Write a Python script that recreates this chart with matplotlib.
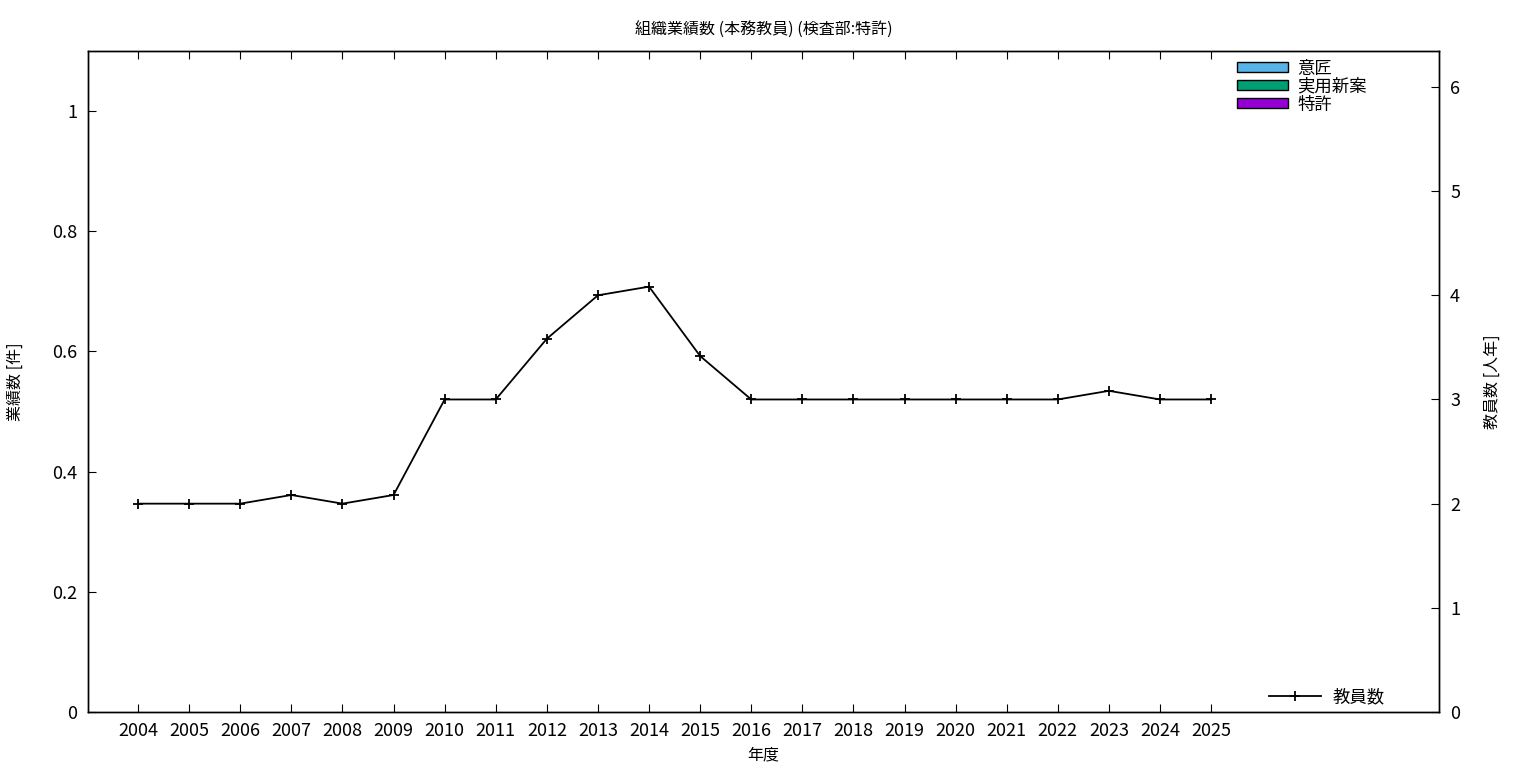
import matplotlib
matplotlib.use('Agg')
import matplotlib.pyplot as plt
from matplotlib.patches import Patch
from matplotlib.lines import Line2D
import numpy as np

plt.rcParams['font.family'] = ['Noto Sans CJK JP', 'DejaVu Sans']

years = [2004, 2005, 2006, 2007, 2008, 2009, 2010, 2011, 2012, 2013, 2014,
         2015, 2016, 2017, 2018, 2019, 2020, 2021, 2022, 2023, 2024, 2025]
# staff count (right axis)
staff = [2, 2, 2, 2.083, 2, 2.083, 3, 3, 3.583, 4, 4.083,
         3.417, 3, 3, 3, 3, 3, 3, 3, 3.083, 3, 3]
# achievements (all zero in this chart)
design = [0] * len(years)
utility = [0] * len(years)
patent = [0] * len(years)

bar_names = ['意匠', '実用新案', '特許']
bar_colors = ['#56b4e9', '#009e73', '#9400d3']

fig = plt.figure(figsize=(15.36, 7.68), dpi=100)
ax = fig.add_axes([88/1536, 1-712/768, (1439-88)/1536, (712-51)/768])
ax2 = ax.twinx()

x = np.arange(len(years))
w = 0.25
for i, (vals, c) in enumerate(zip([design, utility, patent], bar_colors)):
    ax.bar(x + (i-1)*w, vals, w, color=c, linewidth=0)

ax2.plot(x, staff, color='black', linewidth=1.3, marker='+', markersize=7,
         markeredgewidth=1.3)

ax.set_xlim(-0.98, 25.46)
ax.set_ylim(0, 1.1)
ax2.set_ylim(0, 6.345)

ax.set_xticks(x)
ax.set_xticklabels([str(y) for y in years])
ax.set_yticks([0, 0.2, 0.4, 0.6, 0.8, 1])
ax.set_yticklabels(['0', '0.2', '0.4', '0.6', '0.8', '1'])
ax2.set_yticks(range(7))

ax.tick_params(axis='x', direction='in', top=True, length=6, labelsize=13, pad=7)
ax.tick_params(axis='y', direction='in', right=False, length=6, labelsize=13, pad=8)
ax2.tick_params(axis='y', direction='in', length=6, labelsize=13, pad=8)

for a in (ax, ax2):
    for s in a.spines.values():
        s.set_linewidth(1)

ax.set_title('組織業績数 (本務教員) (検査部:特許)', fontsize=11.5, pad=12)
ax.set_xlabel('年度', fontsize=11.5, labelpad=5)
ax.set_ylabel('業績数 [件]', fontsize=11.5, labelpad=20)
ax2.set_ylabel('教員数 [人年]', fontsize=11.5, labelpad=17)

handles = [Patch(facecolor=c, edgecolor='black', label=n) for n, c in zip(bar_names, bar_colors)]
leg1 = ax2.legend(handles=handles, loc='upper right', bbox_to_anchor=(0.957, 1.008),
                  frameon=False, fontsize=12.5, handlelength=2.95, handleheight=0.5,
                  labelspacing=0.0, handletextpad=0.55, borderpad=0.3)
ax2.add_artist(leg1)
ax2.legend(handles=[Line2D([0], [0], color='black', linewidth=1.3, marker='+',
                           markersize=7, markeredgewidth=1.3, label='教員数')],
           loc='lower right', bbox_to_anchor=(0.97, -0.012), frameon=False, fontsize=12.5,
           handlelength=3.0, handletextpad=0.65, borderpad=0.3)

fig.savefig('out.png', dpi=100)
